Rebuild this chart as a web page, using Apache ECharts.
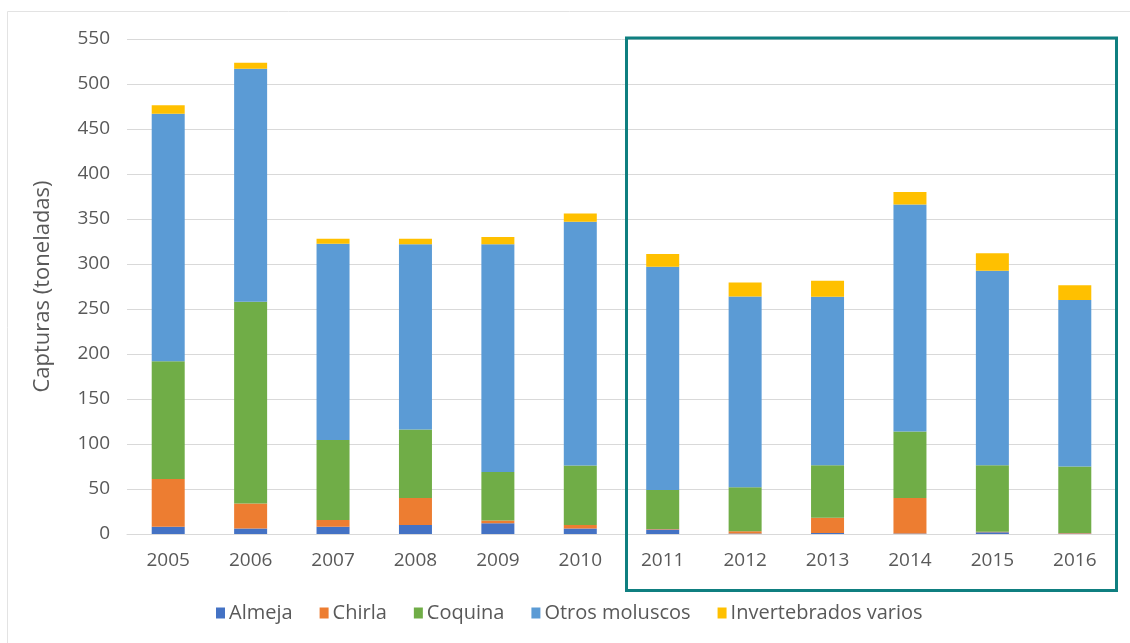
<!DOCTYPE html>
<html>
<head>
<meta charset="utf-8">
<script src="https://cdn.jsdelivr.net/npm/echarts@6/dist/echarts.min.js"></script>
<style>
html,body{margin:0;padding:0;background:#fff;}
#chart{width:1130px;height:643px;}
</style>
</head>
<body>
<div id="chart"></div>
<script>
const years = ['2005','2006','2007','2008','2009','2010','2011','2012','2013','2014','2015','2016'];
const almeja = [8, 6, 8, 10, 12, 6, 5, 0.5, 1, 0.5, 2, 0.5];
const chirla = [53, 28, 7.5, 30, 3, 4, 0.5, 2.5, 17, 39.5, 0.5, 0.5];
const coquina = [131, 224, 89, 76, 54, 66, 43.5, 49, 58.5, 74, 74, 74];
const otros = [275, 259, 218, 206, 253, 271, 248, 212, 187, 252, 216, 185];
const invertebrados = [9.5, 6.5, 5.5, 6, 8, 9, 14, 15.5, 18, 14, 19.5, 16.5];
const seriesNames = ['Almeja','Chirla','Coquina','Otros moluscos','Invertebrados varios'];
const seriesColors = ['#4472C4','#ED7D31','#70AD47','#5B9BD5','#FFC000'];
const yTitle = 'Capturas (toneladas)';

const dataSets = [almeja, chirla, coquina, otros, invertebrados];
const font = '"Open Sans", sans-serif';
const chart = echarts.init(document.getElementById('chart'));
chart.setOption({
  animation: false,
  textStyle: {fontFamily: font},
  grid: {left: 127, right: 14, top: 39, bottom: 109},
  legend: {
    bottom: 15, left: 211,
    itemWidth: 9, itemHeight: 11, itemGap: 27,
    icon: 'rect',
    textStyle: {fontFamily: font, fontSize: 20, color: '#595959', padding: [0, 0, 0, -1]},
    data: seriesNames
  },
  xAxis: {
    type: 'category', data: years,
    axisLine: {lineStyle: {color: '#d9d9d9', width: 1}},
    axisTick: {show: false},
    axisLabel: {fontFamily: font, fontSize: 19, color: '#595959', margin: 17}
  },
  yAxis: {
    type: 'value', min: 0, max: 550, interval: 50,
    name: yTitle, nameLocation: 'middle', nameGap: 73,
    nameTextStyle: {fontFamily: font, fontSize: 22, color: '#595959'},
    axisLine: {show: false}, axisTick: {show: false},
    axisLabel: {fontFamily: font, fontSize: 19, color: '#595959', margin: 17},
    splitLine: {lineStyle: {color: '#d9d9d9', width: 1}}
  },
  series: dataSets.map((d, i) => ({
    name: seriesNames[i], type: 'bar', stack: 'total',
    barWidth: 33, data: d,
    itemStyle: {color: seriesColors[i]}
  })),
  graphic: [
    {type: 'rect', shape: {x: 7.5, y: 11.5, width: 1200, height: 700},
     style: {fill: 'none', stroke: '#e3e3e3', lineWidth: 1}, z: 0, silent: true},
    {type: 'rect', shape: {x: 626.5, y: 38, width: 490, height: 552.5},
     style: {fill: 'none', stroke: '#0f7f80', lineWidth: 3}, z: 100, silent: true}
  ]
});
</script>
</body>
</html>
